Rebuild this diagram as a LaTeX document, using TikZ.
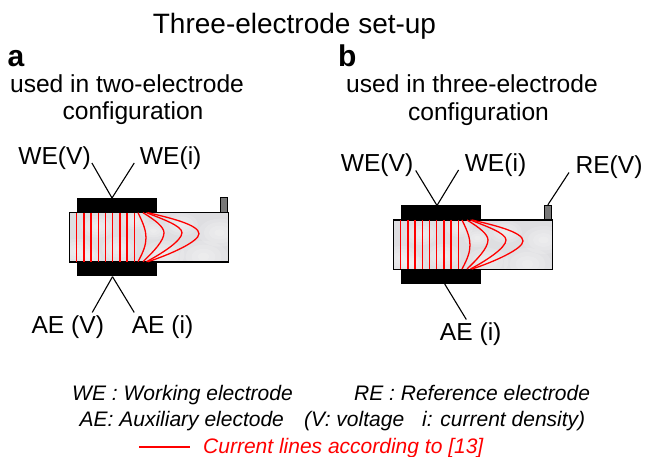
\documentclass[tikz,border=0pt]{standalone}
\usepackage{fontspec}
\setmainfont{Liberation Sans}
\usetikzlibrary{positioning}
\definecolor{tabgray}{RGB}{120,120,120}
\definecolor{samplegray}{RGB}{222,222,225}
\tikzset{
  lbl/.style={inner sep=0pt, anchor=base, font=\fontsize{24.6}{28}\selectfont},
  caplbl/.style={inner sep=0pt, anchor=base west, font=\fontsize{30}{34}\selectfont\bfseries},
  legend/.style={inner sep=0pt, anchor=base west, font=\fontsize{21}{25}\selectfont\itshape},
  lead/.style={draw=black, line width=1.1pt},
  electrode/.style={fill=black, draw=none, minimum width=80.5pt, minimum height=14.5pt, inner sep=0pt},
  sample/.style={fill=samplegray, draw=none, minimum width=158.5pt, minimum height=49pt, inner sep=0pt},
  tabbox/.style={fill=tabgray, draw=black, line width=0.7pt, minimum width=7.5pt, minimum height=14.5pt, inner sep=0pt},
  current/.style={draw=red, line width=1.3pt},
  blob/.style={fill=white, fill opacity=0.14, draw=none}
}
% one cell, the top left corner of the sample at #1
\newcommand{\cellpart}[2]{
  \begin{scope}[shift={#1}]
    \node[electrode, anchor=south west] (top#2) at (7,0) {};
    \node[electrode, anchor=north west] (bot#2) at (7,49) {};
    \node[sample, anchor=north west] (sample#2) at (0,0) {};
    \begin{scope}
      \clip (sample#2.north west) rectangle (sample#2.south east);
      \foreach \bx/\by/\br in {8/38/12, 28/14/11, 50/36/12, 66/8/9, 94/42/14, 112/12/11, 134/44/16, 150/20/14, 84/18/9, 20/44/8} {
        \foreach \k in {0.25,0.5,0.75,1} {
          \fill[blob] (\bx,\by) ellipse [x radius=1.5*\k*\br, y radius=\k*\br];
        }
      }
    \end{scope}
    \draw[line width=1.2pt] (sample#2.north west) rectangle (sample#2.south east);
    \node[tabbox, anchor=south east] (tab#2) at (158.5,0) {};
    \foreach \i in {1,...,9} {
      \draw[current] ({7.2*\i},0) -- ({7.2*\i},49);
    }
    \draw[current] (68.5,0) .. controls (74,11) and (76.5,18) .. (76.5,25) .. controls (76.5,32) and (74,39) .. (68.5,49);
    \draw[current] (73.5,0) .. controls (85,7) and (94.5,14) .. (94.5,20) .. controls (94.5,28) and (84,39) .. (73.5,49);
    \draw[current] (77,0) .. controls (92,6) and (112.5,13) .. (112.5,20) .. controls (112.5,28) and (92,41) .. (77,49);
    \draw[current] (78.5,0) .. controls (100,5) and (129.5,12) .. (129.5,21) .. controls (129.5,29) and (100,42) .. (78.5,49);
  \end{scope}
}
\begin{document}
\begin{tikzpicture}[x=1pt, y=-1pt]
  \useasboundingbox (0,0) rectangle (646,457);
  \node[lbl, font=\fontsize{28}{32}\selectfont] (title) at (294.5,33.3) {Three-electrode set-up};
  \node[caplbl] (capa) at (7.5,66.7) {a};
  \node[caplbl] (capb) at (338,66.7) {b};
  \node[lbl] (usea) at (127,92.7) {used in two-electrode};
  \node[lbl] (confa) at (133,120) {configuration};
  \node[lbl] (useb) at (472,92.5) {used in three-electrode};
  \node[lbl] (confb) at (478.5,120.7) {configuration};
  % left cell
  \cellpart{(69.5,212.7)}{a}
  \coordinate (juna) at (112,198);
  \coordinate (junc) at (112.5,276.7);
  \node[lbl] (wva) at (54.5,165) {WE(V)};
  \node[lbl] (wia) at (170.7,165) {WE(i)};
  \node[lbl] (ava) at (67.8,334) {AE (V)};
  \node[lbl] (aia) at (162.5,334) {AE (i)};
  \draw[lead] (wva.base east) ++(1,-2) -- (juna);
  \draw[lead] (wia.base west) ++(-5.5,-2) -- (juna);
  \draw[lead] (ava.north east) ++(-12,-3.5) -- (junc);
  \draw[lead] (aia.north west) ++(2.7,-3.5) -- (junc);
  % right cell
  \cellpart{(393.5,220)}{b}
  \coordinate (junb) at (437,205.5);
  \coordinate (jund) at (444.7,284);
  \node[lbl] (wvb) at (377,172) {WE(V)};
  \node[lbl] (wib) at (495.5,172) {WE(i)};
  \node[lbl] (rvb) at (609,174) {RE(V)};
  \node[lbl] (aib) at (470.7,341) {AE (i)};
  \draw[lead] (wvb.base east) ++(2.3,-1.5) -- (junb);
  \draw[lead] (wib.base west) ++(-6,-2) -- (junb);
  \draw[lead] (rvb.base west) ++(-6.3,-1.5) -- (tabb.north);
  \draw[lead] (aib.north) ++(-4.4,-3.5) -- (jund);
  % legend
  \node[legend] (lwe) at (72,400.7) {WE : Working electrode};
  \node[legend] (lre) at (354,400.7) {RE : Reference electrode};
  \node[legend] (lae) at (79.5,426) {AE: Auxiliary electode};
  \node[legend] (lvi) at (304,426) {(V: voltage};
  \node[legend] (lcd) at (422,426) {i: current density)};
  \node[legend, text=red] (lcur) at (203,453.3) {Current lines according to [13]};
  \coordinate (lstart) at (139.3,447);
  \coordinate (lend) at (190,447);
  \draw[current] (lstart) -- (lend);
\end{tikzpicture}
\end{document}
